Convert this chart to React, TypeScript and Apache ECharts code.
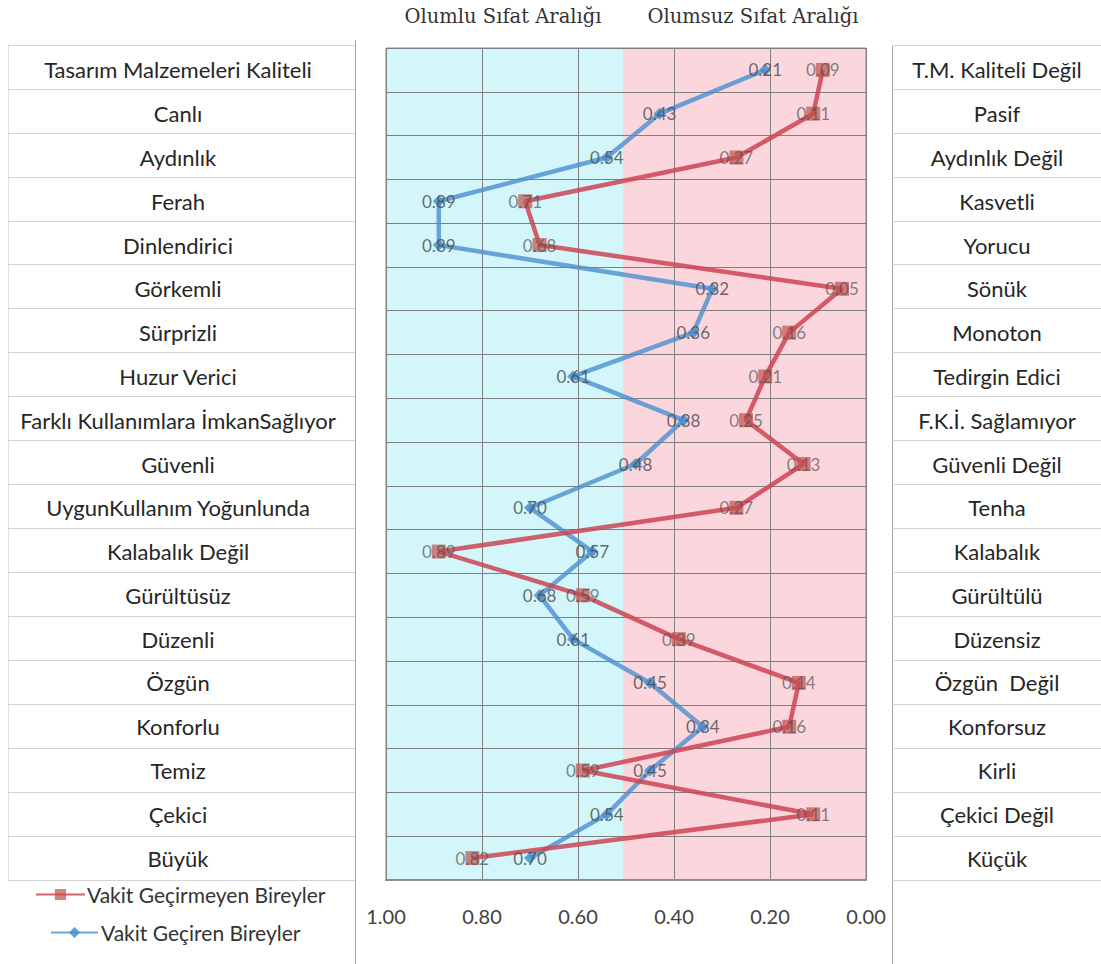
import React, { useEffect, useRef } from "react";
import * as echarts from "echarts";

const leftLabels = [
  "Tasarım Malzemeleri Kaliteli",
  "Canlı",
  "Aydınlık",
  "Ferah",
  "Dinlendirici",
  "Görkemli",
  "Sürprizli",
  "Huzur Verici",
  "Farklı Kullanımlara İmkanSağlıyor",
  "Güvenli",
  "UygunKullanım Yoğunlunda",
  "Kalabalık Değil",
  "Gürültüsüz",
  "Düzenli",
  "Özgün",
  "Konforlu",
  "Temiz",
  "Çekici",
  "Büyük",
];

const rightLabels = [
  "T.M. Kaliteli Değil",
  "Pasif",
  "Aydınlık Değil",
  "Kasvetli",
  "Yorucu",
  "Sönük",
  "Monoton",
  "Tedirgin Edici",
  "F.K.İ. Sağlamıyor",
  "Güvenli Değil",
  "Tenha",
  "Kalabalık",
  "Gürültülü",
  "Düzensiz",
  "Özgün  Değil",
  "Konforsuz",
  "Kirli",
  "Çekici Değil",
  "Küçük",
];

const vakitGecirmeyen = [0.09, 0.11, 0.27, 0.71, 0.68, 0.05, 0.16, 0.21, 0.25, 0.13, 0.27, 0.89, 0.59, 0.39, 0.14, 0.16, 0.59, 0.11, 0.82];
const vakitGeciren = [0.21, 0.43, 0.54, 0.89, 0.89, 0.32, 0.36, 0.61, 0.38, 0.48, 0.7, 0.57, 0.68, 0.61, 0.45, 0.34, 0.45, 0.54, 0.7];

const titles = ["Olumlu Sıfat Aralığı", "Olumsuz Sıfat Aralığı"];
const seriesNames = ["Vakit Geçirmeyen Bireyler", "Vakit Geçiren Bireyler"];

const SANS = "Lato, 'Open Sans', sans-serif";

export default function App() {
  const ref = useRef<HTMLDivElement>(null);
  useEffect(() => {
    if (!ref.current) return;
    const chart = echarts.init(ref.current, undefined, { renderer: "svg" });
    const tableSplit = { show: true, interval: 0, lineStyle: { color: "#d4d4d4", width: 1 } };
    const dataLabel = {
      show: true,
      position: "inside",
      fontSize: 17,
      color: "#505050",
      fontFamily: SANS,
      formatter: (p: any) => Number(p.value).toFixed(2),
    };
    const option: any = {
      animation: false,
      backgroundColor: "#ffffff",
      grid: [
        {
          left: 386,
          right: 235,
          top: 48,
          bottom: 84,
          show: true,
          borderColor: "#8c8c8c",
          borderWidth: 1,
          backgroundColor: {
            type: "linear",
            x: 0,
            y: 0,
            x2: 1,
            y2: 0,
            colorStops: [
              { offset: 0, color: "#d3f6fb" },
              { offset: 0.494, color: "#d3f6fb" },
              { offset: 0.494, color: "#fcd6dd" },
              { offset: 1, color: "#fcd6dd" },
            ],
          },
        },
        { left: 8, right: 746, top: 45, bottom: 84 },
        { left: 892, right: 0, top: 45, bottom: 84 },
      ],
      xAxis: [
        {
          type: "value",
          gridIndex: 0,
          min: 0,
          max: 1,
          interval: 0.2,
          inverse: true,
          axisLine: { show: true, lineStyle: { color: "#8c8c8c", width: 2 } },
          axisTick: { show: false },
          axisLabel: {
            margin: 26,
            fontSize: 20,
            color: "#404040",
            fontFamily: SANS,
            formatter: (v: number) => v.toFixed(2),
          },
          splitLine: { show: true, lineStyle: { color: "#7f7f7f", width: 1 } },
        },
        { type: "value", gridIndex: 1, show: false, min: 0, max: 1 },
        { type: "value", gridIndex: 2, show: false, min: 0, max: 1 },
      ],
      yAxis: [
        {
          type: "category",
          gridIndex: 0,
          data: leftLabels,
          inverse: true,
          position: "left",
          axisLine: { show: false },
          axisTick: { show: false },
          axisLabel: {
            interval: 0,
            margin: 208,
            align: "center",
            fontSize: 22,
            color: "#262626",
            fontFamily: SANS,
          },
          splitLine: { show: true, interval: 0, lineStyle: { color: "#7f7f7f", width: 1 } },
        },
        {
          type: "category",
          gridIndex: 0,
          data: rightLabels,
          inverse: true,
          position: "right",
          axisLine: { show: false },
          axisTick: { show: false },
          axisLabel: {
            interval: 0,
            margin: 131,
            align: "center",
            fontSize: 22,
            color: "#262626",
            fontFamily: SANS,
          },
          splitLine: { show: false },
        },
        {
          type: "category",
          gridIndex: 1,
          data: leftLabels,
          inverse: true,
          axisLine: { show: false },
          axisTick: { show: false },
          axisLabel: { show: false },
          splitLine: tableSplit,
        },
        {
          type: "category",
          gridIndex: 2,
          data: rightLabels,
          inverse: true,
          axisLine: { show: false },
          axisTick: { show: false },
          axisLabel: { show: false },
          splitLine: tableSplit,
        },
      ],
      legend: [
        {
          data: [seriesNames[0]],
          left: 35,
          top: 884,
          padding: 0,
          itemWidth: 49,
          itemHeight: 14,
          textStyle: { fontSize: 21, color: "#333333", fontFamily: SANS, padding: [0, 0, 0, -3] },
        },
        {
          data: [seriesNames[1]],
          left: 50,
          top: 922,
          padding: 0,
          itemWidth: 47,
          itemHeight: 14,
          textStyle: { fontSize: 21, color: "#333333", fontFamily: SANS, padding: [0, 0, 0, -2] },
        },
      ],
      graphic: [
        {
          type: "text",
          x: 503,
          y: 16,
          style: {
            text: titles[0],
            fontFamily: "'DejaVu Serif', serif",
            fontSize: 19.5,
            fill: "#333333",
            textAlign: "center",
            textVerticalAlign: "middle",
          },
        },
        {
          type: "text",
          x: 753,
          y: 16,
          style: {
            text: titles[1],
            fontFamily: "'DejaVu Serif', serif",
            fontSize: 19.5,
            fill: "#333333",
            textAlign: "center",
            textVerticalAlign: "middle",
          },
        },
        { type: "line", shape: { x1: 355.5, y1: 40, x2: 355.5, y2: 964 }, style: { stroke: "#a6a6a6", lineWidth: 1 } },
        { type: "line", shape: { x1: 892.5, y1: 45, x2: 892.5, y2: 964 }, style: { stroke: "#a6a6a6", lineWidth: 1 } },
        { type: "line", shape: { x1: 8.5, y1: 45, x2: 8.5, y2: 880 }, style: { stroke: "#e0e0e0", lineWidth: 1 } },
      ],
      series: [
        {
          name: seriesNames[1],
          type: "line",
          xAxisIndex: 0,
          yAxisIndex: 0,
          data: vakitGeciren,
          symbol: "diamond",
          symbolSize: 12,
          lineStyle: { color: "#4a8fd0", width: 4.5, opacity: 0.8 },
          itemStyle: { color: "#4a8fd0", opacity: 0.85 },
          label: dataLabel,
        },
        {
          name: seriesNames[0],
          type: "line",
          xAxisIndex: 0,
          yAxisIndex: 0,
          data: vakitGecirmeyen,
          symbol: "rect",
          symbolSize: 14,
          lineStyle: { color: "#cc4452", width: 4.5, opacity: 0.85 },
          itemStyle: { color: "#c0504d", opacity: 0.7 },
          label: dataLabel,
        },
      ],
    };
    chart.setOption(option);
    return () => chart.dispose();
  }, []);
  return (
    <div
      ref={ref}
      style={{ position: "absolute", left: 0, top: 0, width: 1101, height: 964 }}
    />
  );
}
